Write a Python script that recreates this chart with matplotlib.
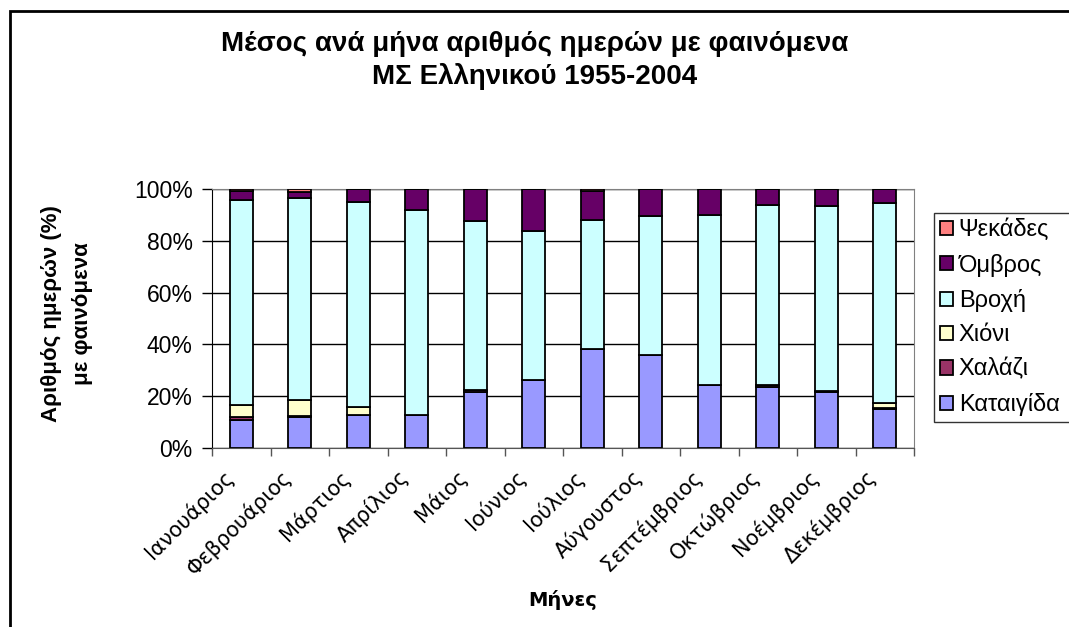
import matplotlib
matplotlib.use("Agg")
import matplotlib.pyplot as plt
import matplotlib.patches as mpatches
import matplotlib.transforms as mtransforms
import numpy as np

months = ["Ιανουάριος", "Φεβρουάριος", "Μάρτιος", "Απρίλιος", "Μάιος", "Ιούνιος",
          "Ιούλιος", "Αύγουστος", "Σεπτέμβριος", "Οκτώβριος", "Νοέμβριος", "Δεκέμβριος"]

# percentages of days (stacked to 100%)
kataigida = [11.0, 12.0, 12.6, 12.6, 21.7, 26.2, 38.4, 35.9, 24.3, 23.6, 21.7, 15.2]
chalazi   = [0.8, 0.2, 0.3, 0.0, 0.6, 0.0, 0.0, 0.0, 0.0, 0.6, 0.5, 0.2]
chioni    = [4.7, 6.3, 3.0, 0.0, 0.0, 0.0, 0.0, 0.0, 0.0, 0.0, 0.0, 1.8]
vrochi    = [79.4, 78.0, 78.9, 79.4, 65.2, 57.4, 49.7, 53.5, 65.7, 69.7, 71.1, 77.4]
omvros    = [3.2, 2.3, 5.2, 8.0, 12.5, 16.4, 11.0, 10.6, 10.0, 6.1, 6.7, 5.4]
psekades  = [0.9, 1.2, 0.0, 0.0, 0.0, 0.0, 0.9, 0.0, 0.0, 0.0, 0.0, 0.0]

series_names = ["Καταιγίδα", "Χαλάζι", "Χιόνι", "Βροχή", "Όμβρος", "Ψεκάδες"]
series_vals = [kataigida, chalazi, chioni, vrochi, omvros, psekades]
colors = ["#9999FF", "#993366", "#FFFFCC", "#CCFFFF", "#660066", "#FF8080"]

yticks = [0, 20, 40, 60, 80, 100]
ytick_labels = ["0%", "20%", "40%", "60%", "80%", "100%"]

W, H = 1069, 627
fig = plt.figure(figsize=(W / 100, H / 100), dpi=100)

# outer frame (chart area border)
fig.patches.append(mpatches.Rectangle((10 / W, -0.1), 1.2, 1.1 - 11 / H,
                                      transform=fig.transFigure, fill=False,
                                      edgecolor="black", linewidth=2))

ax = fig.add_axes([212 / W, 1 - 448 / H, (914 - 212) / W, (448 - 189) / H])

x = np.arange(len(months))
totals = np.sum(np.array(series_vals), axis=0)
bottom = np.zeros(len(months))
handles = []
for name, vals, c in zip(series_names, series_vals, colors):
    v = np.array(vals) / totals * 100
    b = ax.bar(x, v, bottom=bottom, width=0.4, color=c, edgecolor="black",
               linewidth=1.3, label=name, zorder=3)
    handles.append(b)
    bottom += v

ax.set_xlim(-0.5, len(months) - 0.5)
ax.set_ylim(0, 100)

ax.set_yticks(yticks)
ax.set_yticklabels(ytick_labels, fontsize=16.5, family="Liberation Sans")
ax.yaxis.grid(True, color="black", linewidth=1, zorder=0)
ax.tick_params(axis="y", length=7, width=1, pad=7, direction="out")

ax.set_xticks(np.arange(len(months) + 1) - 0.5)
ax.set_xticklabels([])
ax.tick_params(axis="x", which="major", length=6, width=1, direction="out", color="#555555")
ax.set_xticks(x, minor=True)
ax.set_xticklabels(months, minor=True, rotation=45, ha="right", va="top",
                   rotation_mode="anchor", fontsize=15, family="DejaVu Sans")
ax.tick_params(axis="x", which="minor", length=0, pad=8)
offset = mtransforms.ScaledTranslation(-0.19, -0.07, fig.dpi_scale_trans)
for lab in ax.get_xticklabels(minor=True):
    lab.set_transform(lab.get_transform() + offset)

for s in ["top", "right"]:
    ax.spines[s].set_color("#808080")
ax.spines["left"].set_color("black")
ax.spines["bottom"].set_color("#555555")

fig.text(535 / W, 1 - 44 / H, "Μέσος ανά μήνα αριθμός ημερών με φαινόμενα",
         ha="center", va="center", fontsize=20, fontweight="bold", family="Liberation Sans")
fig.text(535 / W, 1 - 76 / H, "ΜΣ Ελληνικού 1955-2004",
         ha="center", va="center", fontsize=20, fontweight="bold", family="Liberation Sans")
fig.text(67 / W, 1 - 314 / H, "Αριθμός ημερών (%)\nμε φαινόμενα", rotation=90,
         ha="center", va="center", fontsize=16, fontweight="bold", family="Liberation Sans",
         multialignment="center", linespacing=1.6)
fig.text(563 / W, 1 - 600 / H, "Μήνες", ha="center", va="center", fontsize=14,
         fontweight="bold", family="DejaVu Sans")

leg = fig.legend(handles[::-1], series_names[::-1], loc="upper left",
                 bbox_to_anchor=(934 / W, 1 - 213 / H, 0.5, 0), mode="expand",
                 frameon=True, fancybox=False,
                 edgecolor="black", prop={"family": "Liberation Sans", "size": 17},
                 handlelength=0.55, handleheight=0.55, handletextpad=0.25,
                 labelspacing=0.52, borderpad=0.25, borderaxespad=0)
leg.get_frame().set_linewidth(1)

fig.savefig("out.png", dpi=100)
